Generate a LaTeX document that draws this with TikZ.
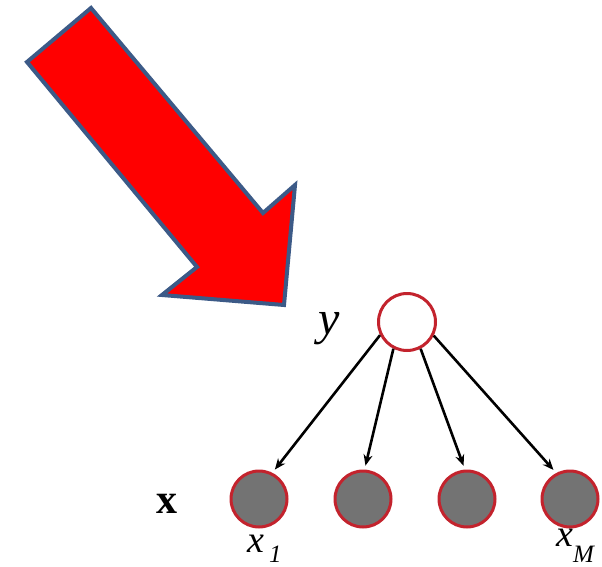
\documentclass[tikz,border=0pt]{standalone}
\usepackage{fontspec}
\setmainfont{Liberation Serif}
\usetikzlibrary{arrows.meta}
\definecolor{arrowred}{RGB}{255,0,0}
\definecolor{arrowedge}{RGB}{60,90,135}
\definecolor{noderim}{RGB}{195,35,45}
\definecolor{nodefill}{RGB}{115,115,115}
\tikzset{
  bigarrow/.style={fill=arrowred, draw=arrowedge, line width=4pt, line join=miter},
  latent/.style={circle, draw=noderim, fill=white, line width=3pt, minimum size=57pt, inner sep=0pt},
  observed/.style={circle, draw=noderim, fill=nodefill, line width=3pt, minimum size=56pt, inner sep=0pt},
  edge/.style={line width=2.6pt, -{Stealth[length=11pt,width=9pt]}, shorten >=4pt},
  lbl/.style={inner sep=0pt, anchor=base}
}
\begin{document}
\begin{tikzpicture}[x=1pt,y=-1pt]
\useasboundingbox (0,0) rectangle (602,567);
\draw[bigarrow] (27,62) -- (91,8) -- (263,213) -- (295,185) -- (284,305) -- (162,295) -- (197,267) -- cycle;
\node[latent] (y) at (407,322) {};
\node[observed] (x1) at (259,499) {};
\node[observed] (x2) at (363,499) {};
\node[observed] (x3) at (467,499) {};
\node[observed] (x4) at (570,499) {};
\draw[edge] (y.206) -- (x1.63);
\draw[edge] (y.243) -- (x2.87);
\draw[edge] (y.297) -- (x3.94);
\draw[edge] (y.333) -- (x4.118);
\node[lbl] (ylab) at (329,334) {\fontsize{48}{48}\selectfont\itshape y};
\node[lbl] (xlab) at (167,513) {\fontsize{42}{42}\selectfont\bfseries x};
\node[lbl, anchor=base west] (x1lab) at (247,552) {\fontsize{38}{38}\selectfont\itshape x\hspace{5pt}\raisebox{-10pt}{\fontsize{25}{25}\selectfont 1}};
\node[lbl, anchor=base west] (x4lab) at (556,546) {\fontsize{38}{38}\selectfont\itshape x\raisebox{-16pt}{\fontsize{25}{25}\selectfont M}};
\end{tikzpicture}
\end{document}
